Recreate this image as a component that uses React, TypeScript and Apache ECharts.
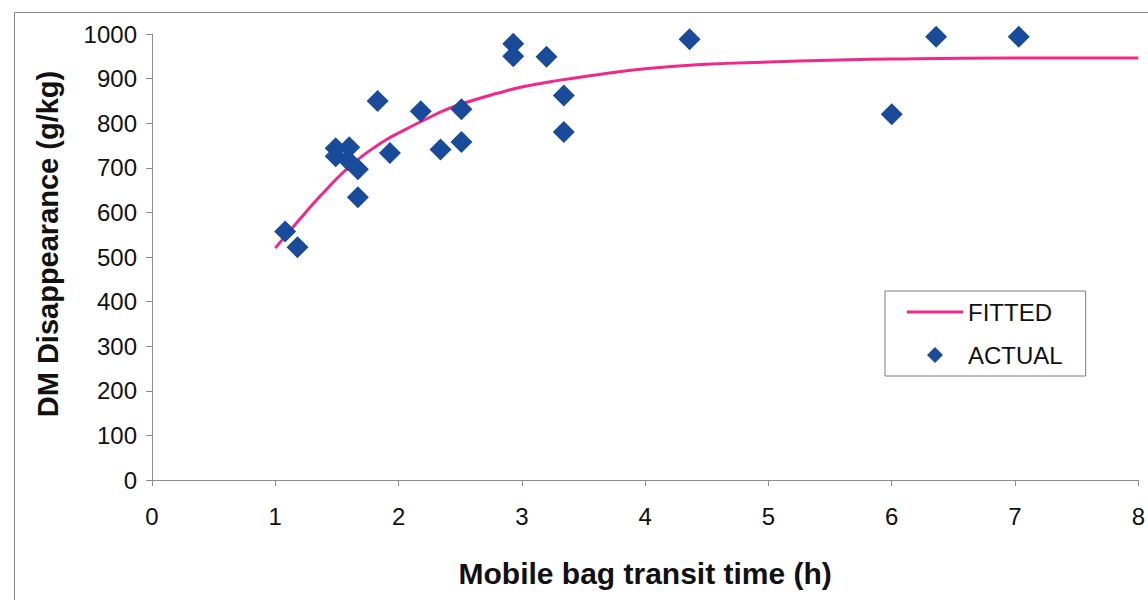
import React, { useEffect, useRef } from "react";
import * as echarts from "echarts";

// Observed DM disappearance for each mobile bag (transit time in h, g/kg)
const actualX = [1.08, 1.18, 1.49, 1.6, 1.49, 1.59, 1.67, 1.67, 1.83, 1.93, 2.18, 2.34, 2.51, 2.51, 2.93, 2.93, 3.2, 3.34, 3.34, 4.36, 6.0, 6.36, 7.03];
const actualY = [557, 522, 744, 746, 726, 717, 697, 634, 850, 733, 827, 741, 831, 758, 978, 950, 949, 862, 780, 988, 820, 994, 994];

// Fitted disappearance curve
const fittedX = [1.0, 1.1, 1.2, 1.3, 1.4, 1.5, 1.6, 1.7, 1.8, 1.9, 2.0, 2.2, 2.4, 2.6, 2.8, 3.0, 3.3, 3.6, 4.0, 4.5, 5.0, 5.5, 6.0, 7.0, 8.0];
const fittedY = [520, 553, 585, 617, 647, 676, 702, 725, 745, 763, 778, 806, 832, 851, 867, 881, 896, 908, 922, 932, 937, 941, 944, 946, 946];

const xTicks = [0, 1, 2, 3, 4, 5, 6, 7, 8];
const yTicks = [0, 100, 200, 300, 400, 500, 600, 700, 800, 900, 1000];

const FONT = "'Liberation Sans', Arial, sans-serif";
const PINK = "#f0288c";
const NAVY = "#1a4b9b";

export default function App() {
  const ref = useRef<HTMLDivElement>(null);

  useEffect(() => {
    if (!ref.current) return;
    const chart = echarts.init(ref.current, null, { renderer: "svg" });
    const actual = actualX.map((x, i) => [x, actualY[i]]);
    const fitted = fittedX.map((x, i) => [x, fittedY[i]]);

    chart.setOption({
      animation: false,
      backgroundColor: "#ffffff",
      textStyle: { fontFamily: FONT },
      graphic: [
        {
          type: "rect",
          left: 12,
          top: 10,
          shape: { x: 0, y: 0, width: 1150, height: 600 },
          style: { fill: "none", stroke: "#8a8a8a", lineWidth: 1 },
          silent: true,
          z: -1,
        },
      ],
      grid: { left: 152, right: 8, top: 34, bottom: 120 },
      legend: {
        orient: "vertical",
        left: 885,
        top: 291,
        padding: [9, 23, 9, 22],
        itemWidth: 56,
        itemHeight: 16,
        itemGap: 19,
        symbolKeepAspect: true,
        backgroundColor: "#ffffff",
        borderColor: "#7a7a7a",
        borderWidth: 1,
        textStyle: { fontFamily: FONT, fontSize: 24, color: "#111", lineHeight: 24 },
        data: [
          { name: "FITTED", icon: "path://M0,0L56,0L56,3L0,3Z", itemStyle: { color: PINK } },
          { name: "ACTUAL", icon: "path://M8,0L16,8L8,16L0,8Z", itemStyle: { color: NAVY } },
        ],
      },
      xAxis: {
        type: "value",
        min: xTicks[0],
        max: xTicks[xTicks.length - 1],
        interval: 1,
        name: "Mobile bag transit time (h)",
        nameLocation: "middle",
        nameGap: 78,
        nameTextStyle: { fontFamily: FONT, fontSize: 30, fontWeight: "bold", color: "#111" },
        axisLine: { lineStyle: { color: "#8c8c8c", width: 1 } },
        axisTick: { show: true, inside: false, length: 6, lineStyle: { color: "#8c8c8c" } },
        axisLabel: { fontFamily: FONT, fontSize: 24, color: "#111", margin: 24, formatter: (v: number) => String(v) },
        splitLine: { show: false },
      },
      yAxis: {
        type: "value",
        min: yTicks[0],
        max: yTicks[yTicks.length - 1],
        interval: 100,
        name: "DM Disappearance (g/kg)",
        nameLocation: "middle",
        nameGap: 90,
        nameRotate: 90,
        nameTextStyle: {
          fontFamily: FONT,
          fontSize: 29,
          fontWeight: "bold",
          color: "#111",
          padding: [0, 0, 0, 26],
        },
        axisLine: { show: true, lineStyle: { color: "#8c8c8c", width: 1 } },
        axisTick: { show: true, inside: false, length: 6, lineStyle: { color: "#8c8c8c" } },
        axisLabel: { fontFamily: FONT, fontSize: 24, color: "#111", margin: 15, formatter: (v: number) => String(v) },
        splitLine: { show: false },
      },
      series: [
        {
          name: "FITTED",
          type: "line",
          data: fitted,
          smooth: true,
          showSymbol: false,
          symbol: "none",
          lineStyle: { color: PINK, width: 3 },
          itemStyle: { color: PINK },
          z: 2,
        },
        {
          name: "ACTUAL",
          type: "scatter",
          data: actual,
          symbol: "diamond",
          symbolSize: 22,
          itemStyle: { color: NAVY, opacity: 1 },
          z: 3,
        },
      ],
    });

    return () => chart.dispose();
  }, []);

  return (
    <div
      ref={ref}
      style={{ position: "fixed", left: 0, top: 0, width: 1148, height: 600, background: "#fff" }}
    />
  );
}
